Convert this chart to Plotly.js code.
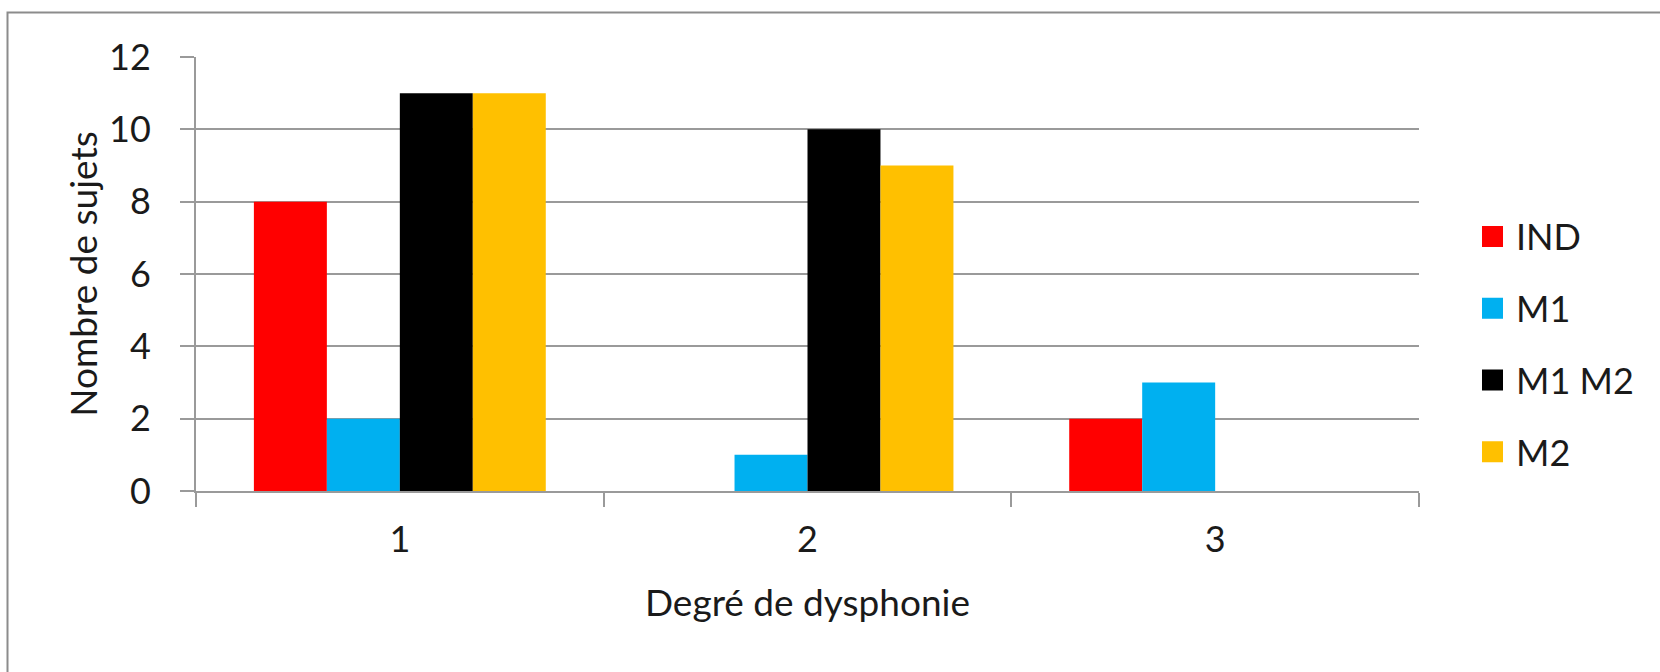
<!DOCTYPE html>
<html>
<head>
<meta charset="utf-8">
<script src="https://cdn.plot.ly/plotly-3.0.1.min.js"></script>
<style>html,body{margin:0;padding:0;background:#fff;}#chart{width:1660px;height:672px;}</style>
</head>
<body>
<div id="chart"></div>
<script>
const categories = ["1", "2", "3"];
const seriesNames = ["IND", "M1", "M1 M2", "M2"];
const valuesIND = [8, 0, 2];
const valuesM1 = [2, 1, 3];
const valuesM1M2 = [11, 10, 0];
const valuesM2 = [11, 9, 0];
const colors = ["#FF0000", "#00B0F0", "#000000", "#FFC000"];
const yTicks = [0, 2, 4, 6, 8, 10, 12];

const allValues = [valuesIND, valuesM1, valuesM1M2, valuesM2];
const FONT = "Lato, Carlito, 'Open Sans', sans-serif";
const TXT = "#1a1a1a";
const GRID = "#9a9a9a";

const traces = [];
allValues.forEach((vals, i) => {
  traces.push({
    type: "bar",
    x: categories,
    y: vals,
    name: seriesNames[i],
    marker: {color: colors[i], line: {width: 0}},
    showlegend: false,
    hoverinfo: "x+y+name"
  });
});
allValues.forEach((vals, i) => {
  traces.push({
    type: "scatter",
    mode: "markers",
    x: [null],
    y: [null],
    name: seriesNames[i],
    legendgroup: "g" + i,
    marker: {symbol: "square", size: 16, color: colors[i], line: {color: colors[i], width: 5}},
    showlegend: true,
    hoverinfo: "skip"
  });
});

const L = 196, R = 1419, T = 57, B = 491;
const W = R - L, H = B - T;

const layout = {
  width: 1660,
  height: 672,
  margin: {l: L, r: 1660 - R, t: T, b: 672 - B, pad: 0},
  paper_bgcolor: "#ffffff",
  plot_bgcolor: "#ffffff",
  font: {family: FONT, size: 36, color: TXT},
  barmode: "group",
  bargap: 0.284,
  bargroupgap: 0,
  xaxis: {
    type: "category",
    tickson: "boundaries",
    ticks: "outside",
    ticklen: 14,
    tickwidth: 2,
    tickcolor: GRID,
    showline: true,
    linecolor: GRID,
    linewidth: 2,
    showgrid: false,
    zeroline: false,
    ticklabelstandoff: 16,
    tickfont: {family: FONT, size: 36, color: TXT},
    title: {text: "Degré de dysphonie", font: {family: FONT, size: 37, color: TXT}, standoff: 31},
    automargin: false,
    fixedrange: true
  },
  yaxis: {
    range: [0, 12],
    tickvals: yTicks,
    ticktext: yTicks.map(String),
    ticks: "outside",
    ticklen: 14,
    tickwidth: 2,
    tickcolor: GRID,
    showline: true,
    linecolor: GRID,
    linewidth: 2,
    showgrid: true,
    gridcolor: GRID,
    gridwidth: 2,
    zeroline: false,
    ticklabelstandoff: 22,
    tickfont: {family: FONT, size: 36, color: TXT},
    title: {text: "Nombre de sujets", font: {family: FONT, size: 37, color: TXT}, standoff: 0},
    automargin: false,
    fixedrange: true
  },
  legend: {
    x: (1469 - L) / W,
    xanchor: "left",
    y: (B - 344.5) / H,
    yanchor: "middle",
    font: {family: FONT, size: 36, color: TXT},
    itemwidth: 37,
    tracegroupgap: 22,
    bgcolor: "rgba(0,0,0,0)",
    borderwidth: 0
  },
  shapes: [{
    type: "rect",
    xref: "paper", yref: "paper",
    x0: (7.5 - L) / W, x1: 1.3,
    y0: -0.6, y1: (B - 12.5) / H,
    line: {color: "#8c8c8c", width: 2},
    fillcolor: "rgba(0,0,0,0)",
    layer: "below"
  }]
};

Plotly.newPlot("chart", traces, layout, {displayModeBar: false, staticPlot: true});
</script>
</body>
</html>
